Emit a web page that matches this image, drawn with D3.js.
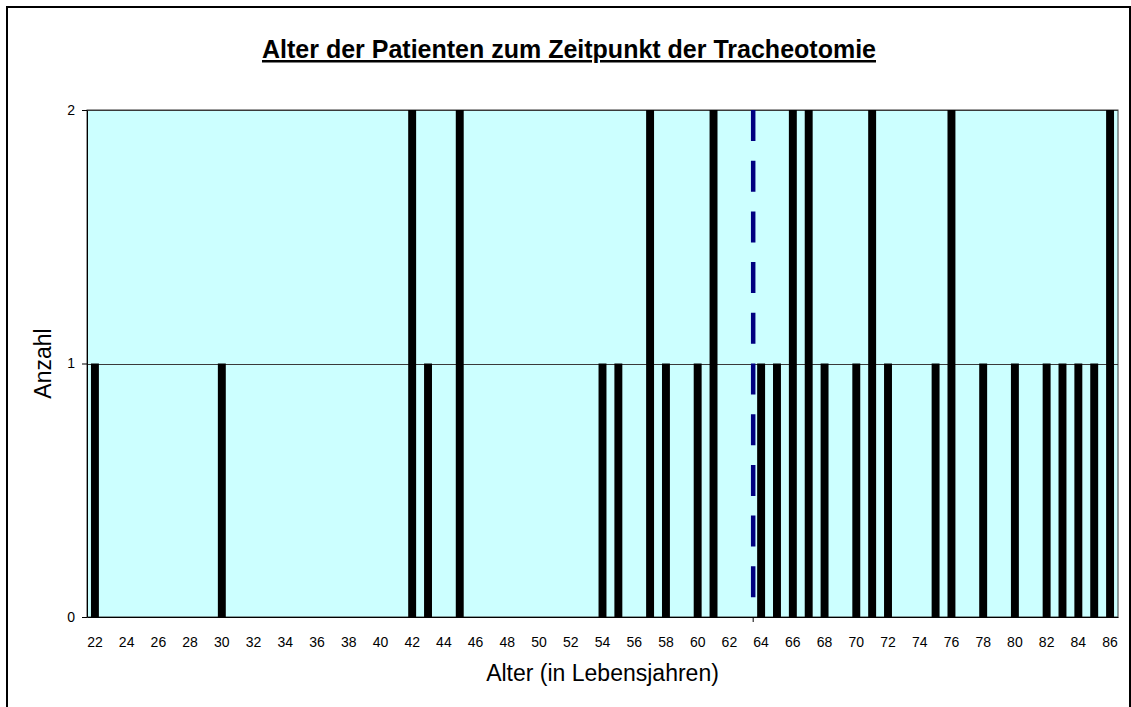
<!DOCTYPE html>
<html>
<head>
    <title>Alter der Patienten</title>
    <script src="https://d3js.org/d3.v7.min.js"></script>
    <style>
        body { margin: 0; background: #fff; }
        text { font-family: "Liberation Sans", Arial, sans-serif; }
    </style>
</head>
<body>
    <svg width="1131" height="707"></svg>

    <script>
        // Age categories on the x axis (one per year)
        var categories = [22, 23, 24, 25, 26, 27, 28, 29, 30, 31,
                          32, 33, 34, 35, 36, 37, 38, 39, 40, 41,
                          42, 43, 44, 45, 46, 47, 48, 49, 50, 51,
                          52, 53, 54, 55, 56, 57, 58, 59, 60, 61,
                          62, 63, 64, 65, 66, 67, 68, 69, 70, 71,
                          72, 73, 74, 75, 76, 77, 78, 79, 80, 81,
                          82, 83, 84, 85, 86];

        // Number of patients per age
        var counts = [1, 0, 0, 0, 0, 0, 0, 0, 1, 0,
                      0, 0, 0, 0, 0, 0, 0, 0, 0, 0,
                      2, 1, 0, 2, 0, 0, 0, 0, 0, 0,
                      0, 0, 1, 1, 0, 2, 1, 0, 1, 2,
                      0, 0, 1, 1, 2, 2, 1, 0, 1, 2,
                      1, 0, 0, 1, 2, 0, 1, 0, 1, 0,
                      1, 1, 1, 1, 2];

        // Labelled ticks (every second year)
        var xTickLabels = [22, 24, 26, 28, 30, 32, 34, 36, 38, 40, 42, 44, 46, 48, 50, 52, 54,
                           56, 58, 60, 62, 64, 66, 68, 70, 72, 74, 76, 78, 80, 82, 84, 86];
        var yTickLabels = [0, 1, 2];

        // Average age (dashed line)
        var meanAge = 63.5;

        var data = categories.map(function(c, i) { return {age: c, n: counts[i]}; });

        // plot area
        var plotLeft = 87, plotRight = 1118, plotTop = 110, plotBottom = 617;

        var svg = d3.select("svg");

        // outer frame
        svg.append("rect")
            .attr("x", 7).attr("y", 7)
            .attr("width", 1123).attr("height", 720)
            .attr("fill", "none")
            .attr("stroke", "#000")
            .attr("stroke-width", 2);

        var x = d3.scaleBand()
            .domain(categories)
            .range([plotLeft, plotRight])
            .paddingInner(0.5)
            .paddingOuter(0.25);

        var ageScale = d3.scaleLinear()
            .domain([categories[0] - 0.5, categories[categories.length - 1] + 0.5])
            .range([plotLeft, plotRight]);

        var y = d3.scaleLinear()
            .domain([0, 2])
            .range([plotBottom, plotTop]);

        // plot background
        svg.append("rect")
            .attr("x", plotLeft).attr("y", plotTop)
            .attr("width", plotRight - plotLeft).attr("height", plotBottom - plotTop)
            .attr("fill", "#ccffff")
            .attr("stroke", "#3a3a3a")
            .attr("stroke-width", 1);

        // gridlines
        svg.append("g")
            .selectAll("line")
            .data(yTickLabels.filter(function(d) { return d > 0; }))
            .join("line")
            .attr("x1", plotLeft).attr("x2", plotRight)
            .attr("y1", function(d) { return Math.round(y(d)) + 0.5; })
            .attr("y2", function(d) { return Math.round(y(d)) + 0.5; })
            .attr("stroke", "#3a3a3a")
            .attr("stroke-width", 1);

        // bars
        svg.append("g")
            .selectAll("rect")
            .data(data.filter(function(d) { return d.n > 0; }))
            .join("rect")
            .attr("x", function(d) { return x(d.age); })
            .attr("y", function(d) { return y(d.n); })
            .attr("width", x.bandwidth())
            .attr("height", function(d) { return y(0) - y(d.n); })
            .attr("fill", "#000");

        // mean line
        svg.append("line")
            .attr("x1", ageScale(meanAge)).attr("x2", ageScale(meanAge))
            .attr("y1", y(2)).attr("y2", y(0))
            .attr("stroke", "#000080")
            .attr("stroke-width", 4.5)
            .attr("stroke-dasharray", "31,19.7");

        svg.append("line")
            .attr("x1", ageScale(meanAge)).attr("x2", ageScale(meanAge))
            .attr("y1", y(0)).attr("y2", y(0) + 5)
            .attr("stroke", "#000")
            .attr("stroke-width", 1);

        // x axis
        var xAxis = svg.append("g")
            .attr("transform", "translate(0," + plotBottom + ")")
            .call(d3.axisBottom(x)
                .tickValues(xTickLabels)
                .tickSize(0)
                .tickSizeOuter(0)
                .tickPadding(20));
        xAxis.selectAll("text")
            .attr("font-size", "14px")
            .attr("fill", "#000");
        xAxis.select(".domain").attr("stroke", "#000");

        // y axis
        var yAxis = svg.append("g")
            .attr("transform", "translate(" + plotLeft + ",0)")
            .call(d3.axisLeft(y)
                .tickValues(yTickLabels)
                .tickFormat(d3.format("d"))
                .tickSize(5)
                .tickSizeOuter(0)
                .tickPadding(7));
        yAxis.selectAll("text")
            .attr("font-size", "14px")
            .attr("fill", "#000");
        yAxis.select(".domain").attr("stroke", "#000");

        // title
        svg.append("text")
            .attr("x", 569).attr("y", 58)
            .attr("text-anchor", "middle")
            .attr("font-size", "25px")
            .attr("font-weight", "bold")
            .attr("text-decoration", "underline")
            .text("Alter der Patienten zum Zeitpunkt der Tracheotomie");

        // axis titles
        svg.append("text")
            .attr("x", (plotLeft + plotRight) / 2).attr("y", 681)
            .attr("text-anchor", "middle")
            .attr("font-size", "23px")
            .text("Alter (in Lebensjahren)");

        svg.append("text")
            .attr("transform", "translate(51," + (plotTop + plotBottom) / 2 + ") rotate(-90)")
            .attr("text-anchor", "middle")
            .attr("font-size", "23px")
            .text("Anzahl");
    </script>
</body>
</html>
